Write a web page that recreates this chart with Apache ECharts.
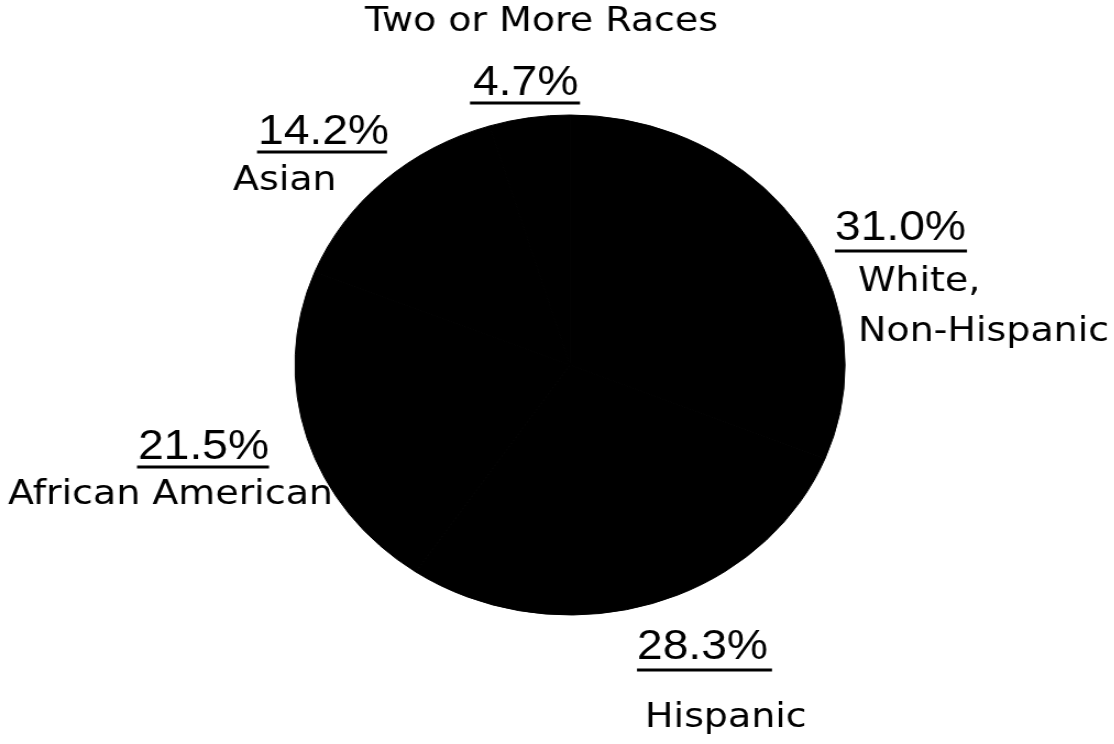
<!DOCTYPE html>
<html>
<head>
<meta charset="utf-8">
<script src="https://cdn.jsdelivr.net/npm/echarts@6/dist/echarts.min.js"></script>
<style>
  html, body { margin: 0; padding: 0; background: #fff; overflow: hidden; }
  /* the scanned original is stretched sideways, so the chart is too */
  #chart { width: 1013px; height: 744px; transform: scaleX(1.1); transform-origin: 0 0; }
</style>
</head>
<body>
<div id="chart"></div>
<script>
var S = 1.1;

var categories = ['White, Non-Hispanic', 'Hispanic', 'African American', 'Asian', 'Two or More Races'];
var values = [31.0, 28.3, 21.5, 14.2, 4.7];
var pctLabels = ['31.0%', '28.3%', '21.5%', '14.2%', '4.7%'];
var nameLines = [['White,', 'Non-Hispanic'], ['Hispanic'], ['African American'], ['Asian'], ['Two or More Races']];

// where each label block sits, in screen pixels
var labelPos = [
  {x: 835, y: 211, pctDx: 0, uDx: 0, uW: 132, nameDx: 23, nameLh: 50, uLh: 12, nameFirst: false},
  {x: 637, y: 630, pctDx: 0, uDx: 0, uW: 135, nameDx: 8, nameLh: 84, uLh: 12, nameFirst: false},
  {x: 8, y: 430, pctDx: 130, uDx: 129, uW: 132, nameDx: 0, nameLh: 50, uLh: 6, nameFirst: false},
  {x: 233, y: 115, pctDx: 25, uDx: 24, uW: 130, nameDx: 0, nameLh: 52, uLh: 6, nameFirst: false},
  {x: 365, y: -22, pctDx: 108, uDx: 105, uW: 110, nameDx: 0, nameLh: 88, uLh: 6, nameFirst: true}
];

function spacer(w) {
  return w > 0 ? '{s' + Math.round(w) + '|}' : '';
}

function buildLabel(i) {
  var L = labelPos[i];
  var rich = {
    p: {fontFamily: 'Liberation Sans', fontSize: 42, lineHeight: 34, color: '#000'},
    n: {fontFamily: 'DejaVu Sans', fontSize: 34.5, lineHeight: L.nameLh, color: '#000'},
    u: {width: L.uW / S, height: 3, lineHeight: L.uLh, backgroundColor: '#000'}
  };
  [L.pctDx, L.uDx, L.nameDx].forEach(function(d){
    if (d > 0) rich['s' + Math.round(d)] = {width: Math.round(d) / S, height: 1, lineHeight: 1};
  });
  var pctLine = spacer(L.pctDx) + '{p|' + pctLabels[i] + '}';
  var uLine = spacer(L.uDx) + '{u|}';
  var names = nameLines[i].map(function(t){ return spacer(L.nameDx) + '{n|' + t + '}'; });
  var lines = L.nameFirst ? names.concat([pctLine, uLine]) : [pctLine, uLine].concat(names);
  return {
    formatter: lines.join('\n'),
    rich: rich
  };
}

var pieData = [];
for (var i = 0; i < categories.length; i++) {
  pieData.push({name: categories[i], value: values[i], label: buildLabel(i)});
}

var chart = echarts.init(document.getElementById('chart'));
chart.setOption({
  animation: false,
  backgroundColor: '#fff',
  series: [{
    type: 'pie',
    center: [570 / S, 365],
    radius: 250,
    startAngle: 90,
    clockwise: true,
    avoidLabelOverlap: false,
    itemStyle: {color: '#000', borderColor: '#000', borderWidth: 1},
    emphasis: {disabled: true},
    label: {
      show: true,
      position: 'outside',
      align: 'left',
      overflow: 'none',
      color: '#000'
    },
    labelLine: {show: false},
    labelLayout: function(params) {
      var L = labelPos[params.dataIndex];
      return {x: L.x / S, y: L.y, align: 'left', verticalAlign: 'top'};
    },
    data: pieData
  }]
});
</script>
</body>
</html>
